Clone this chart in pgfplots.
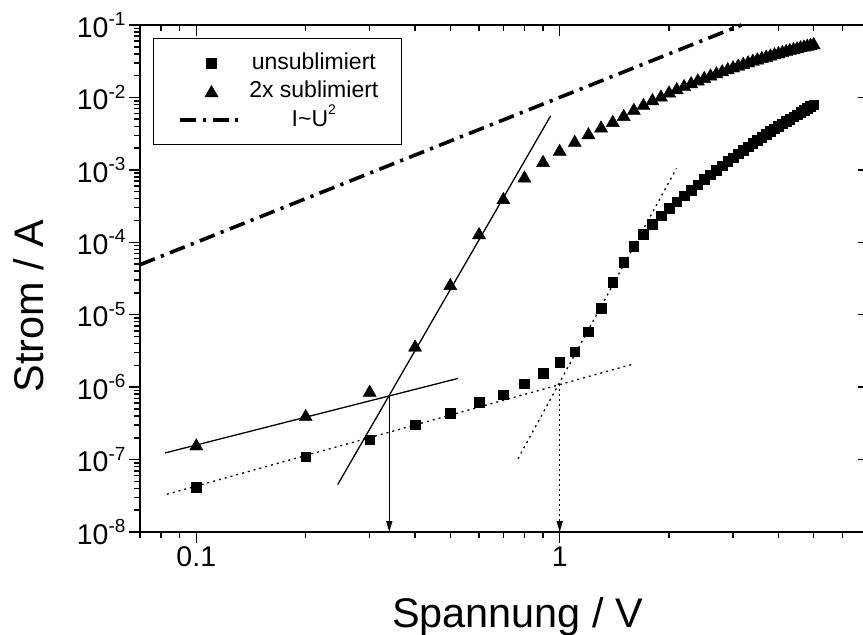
\documentclass[border=0pt]{standalone}
\usepackage{fontspec}
\setmainfont{Liberation Sans}
\usepackage{pgfplots}
\pgfplotsset{compat=1.18}
\usetikzlibrary{arrows.meta}
\newcommand\sups[1]{\raisebox{11.5pt}{\fontsize{19}{19}\selectfont #1}}
\newcommand\lsup[1]{\raisebox{12pt}{\fontsize{14}{14}\selectfont #1}}
\pgfplotsset{
  markleg/.style={legend image code/.code={\path[draw=none,fill=none] (-6pt,0pt) -- (62pt,0pt); \path[##1,draw=none] plot coordinates {(31pt,0pt)};}},
  triLeg/.style={legend image code/.code={\path[draw=none,fill=none] (-6pt,0pt) -- (62pt,0pt); \path[##1,draw=none] plot coordinates {(31pt,-1.5pt)};}},
  lineleg/.style={legend image code/.code={\path[draw=none,fill=none] (-6pt,0pt) -- (62pt,0pt); \draw[##1] (0pt,0pt) -- (62pt,0pt);}},
}
\begin{document}
\begin{tikzpicture}
\useasboundingbox (-140pt,-103pt) rectangle (723pt,532pt);
\begin{axis}[
  scale only axis, width=729pt, height=507pt,
  xmode=log, ymode=log,
  xmin=0.07, xmax=7.1, ymin=1e-8, ymax=1e-1,
  axis line style={line width=2pt},
  every tick/.style={line width=1.5pt, black},
  xtick={0.1,1},
  minor xtick={0.07,0.08,0.09,0.2,0.3,0.4,0.5,0.6,0.7,0.8,0.9,2,3,4,5,6},
  ytick={1e-8,1e-7,1e-6,1e-5,1e-4,1e-3,1e-2,1e-1},
  minor ytick={2e-8,3e-8,4e-8,5e-8,6e-8,7e-8,8e-8,9e-8,
               2e-7,3e-7,4e-7,5e-7,6e-7,7e-7,8e-7,9e-7,
               2e-6,3e-6,4e-6,5e-6,6e-6,7e-6,8e-6,9e-6,
               2e-5,3e-5,4e-5,5e-5,6e-5,7e-5,8e-5,9e-5,
               2e-4,3e-4,4e-4,5e-4,6e-4,7e-4,8e-4,9e-4,
               2e-3,3e-3,4e-3,5e-3,6e-3,7e-3,8e-3,9e-3,
               2e-2,3e-2,4e-2,5e-2,6e-2,7e-2,8e-2,9e-2},
  major tick length=11pt, minor tick length=6pt,
  clip=false,
  tick align=outside, xtick pos=left, ytick pos=left,
  xticklabels={0.1,1},
  yticklabels={10\sups{-8},10\sups{-7},10\sups{-6},10\sups{-5},10\sups{-4},10\sups{-3},10\sups{-2},10\sups{-1}},
  tick label style={font=\fontsize{28.5}{30}\selectfont},
  xlabel={Spannung / V}, ylabel={Strom / A},
  label style={font=\fontsize{41.4}{48}\selectfont},
  xlabel style={at={(0.5178,-0.1874)}, anchor=base},
  ylabel style={at={(-0.1317,0.4458)}, anchor=base},
  legend style={at={(0,1)}, anchor=north west, xshift=13pt, yshift=-13pt,
    draw=black, line width=1pt, fill=white, inner xsep=21pt, inner ysep=11.5pt,
    cells={anchor=center},
    nodes={inner sep=2pt, text height=17pt, text depth=5pt, font=\fontsize{23}{27}\selectfont},
    column sep=3pt, row sep=2.5pt},
]
% fit lines
\addplot[forget plot, black, line width=1.3pt] coordinates {(0.0821,1.235e-7) (0.5246,1.318e-6)};
\addplot[forget plot, black, line width=1.3pt] coordinates {(0.245,4.52e-8) (0.9445,5.58e-3)};
\addplot[forget plot, black, line width=1.3pt, -{Triangle[length=11pt,width=6pt]}] coordinates {(0.3397,7.57e-7) (0.3397,1e-8)};
\addplot[forget plot, black, line width=1.3pt, dash pattern=on 2pt off 4pt] coordinates {(0.083,3.32e-8) (1.586,2.07e-6)};
\addplot[forget plot, black, line width=1.3pt, dash pattern=on 2pt off 4pt] coordinates {(0.768,1.03e-7) (2.096,1.047e-3)};
\addplot[forget plot, black, line width=1.3pt, dash pattern=on 2pt off 3pt, -{Triangle[length=11pt,width=6pt]}] coordinates {(1.0,1.1e-6) (1.0,1e-8)};
% data
\addplot[only marks, mark=square*, mark size=4.8pt, black, line width=0.4pt, markleg]
 coordinates {
(0.1,4.19e-8) (0.2,1.09e-7) (0.3,1.89e-7) (0.4,3.05e-7) (0.5,4.4e-7) (0.6,6.25e-7)
(0.7,7.9e-7) (0.8,1.12e-6) (0.9,1.55e-6) (1.0,2.22e-6) (1.1,3.07e-6) (1.2,5.8e-6)
(1.3,1.24e-5) (1.4,2.79e-5) (1.5,5.27e-5) (1.6,8.85e-5) (1.7,1.30e-4) (1.8,1.78e-4)
(1.9,2.32e-4) (2.0,2.94e-4) (2.1,3.62e-4) (2.2,4.40e-4) (2.3,5.28e-4) (2.4,6.27e-4)
(2.5,7.38e-4) (2.6,8.62e-4) (2.7,9.97e-4) (2.8,1.146e-3) (2.9,1.307e-3) (3.0,1.481e-3)
(3.1,1.671e-3) (3.2,1.872e-3) (3.3,2.089e-3) (3.4,2.32e-3) (3.5,2.566e-3) (3.6,2.825e-3)
(3.7,3.099e-3) (3.8,3.388e-3) (3.9,3.693e-3) (4.0,4.011e-3) (4.1,4.342e-3) (4.2,4.686e-3)
(4.3,5.048e-3) (4.4,5.423e-3) (4.5,5.807e-3) (4.6,6.214e-3) (4.7,6.627e-3) (4.8,7.054e-3)
(4.9,7.499e-3) (5.0,7.957e-3)
};
\addlegendentry{unsublimiert}
\addplot[only marks, mark=triangle*, mark size=7.6pt, black, line width=0.4pt, triLeg]
 coordinates {
(0.1,1.53e-7) (0.2,3.88e-7) (0.3,8.4e-7) (0.4,3.53e-6) (0.5,2.5e-5) (0.6,1.26e-4)
(0.7,3.84e-4) (0.8,7.63e-4) (0.9,1.25e-3) (1.0,1.78e-3) (1.1,2.37e-3) (1.2,3.02e-3) (1.3,3.74e-3)
(1.4,4.47e-3) (1.5,5.41e-3) (1.6,6.55e-3) (1.7,7.68e-3) (1.8,8.91e-3) (1.9,1.0e-2)
(2.0,1.14e-2) (2.1,1.266e-2) (2.2,1.397e-2) (2.3,1.531e-2) (2.4,1.669e-2) (2.5,1.808e-2)
(2.6,1.951e-2) (2.7,2.094e-2) (2.8,2.239e-2) (2.9,2.383e-2) (3.0,2.53e-2) (3.1,2.676e-2)
(3.2,2.822e-2) (3.3,2.969e-2) (3.4,3.115e-2) (3.5,3.261e-2) (3.6,3.405e-2) (3.7,3.549e-2)
(3.8,3.692e-2) (3.9,3.834e-2) (4.0,3.975e-2) (4.1,4.114e-2) (4.2,4.251e-2) (4.3,4.388e-2)
(4.4,4.522e-2) (4.5,4.653e-2) (4.6,4.785e-2) (4.7,4.913e-2) (4.8,5.039e-2) (4.9,5.164e-2)
(5.0,5.288e-2)
};
\addlegendentry{2x sublimiert}
\addplot[black, line width=3.6pt, dash pattern=on 16pt off 6.5pt on 3.2pt off 6.5pt, lineleg]
 coordinates {(0.07,4.9e-5) (3.1623,0.1)};
\addlegendentry{I\textasciitilde U\lsup{2}}
\end{axis}
\begin{axis}[
  scale only axis, width=729pt, height=507pt,
  xmode=log, ymode=log,
  xmin=0.07, xmax=7.1, ymin=1e-8, ymax=1e-1,
  axis line style={line width=2pt},
  every tick/.style={line width=1.5pt, black},
  xtick={0.1,1},
  minor xtick={0.07,0.08,0.09,0.2,0.3,0.4,0.5,0.6,0.7,0.8,0.9,2,3,4,5,6},
  ytick={1e-8,1e-7,1e-6,1e-5,1e-4,1e-3,1e-2,1e-1},
  minor ytick={2e-8,3e-8,4e-8,5e-8,6e-8,7e-8,8e-8,9e-8,
               2e-7,3e-7,4e-7,5e-7,6e-7,7e-7,8e-7,9e-7,
               2e-6,3e-6,4e-6,5e-6,6e-6,7e-6,8e-6,9e-6,
               2e-5,3e-5,4e-5,5e-5,6e-5,7e-5,8e-5,9e-5,
               2e-4,3e-4,4e-4,5e-4,6e-4,7e-4,8e-4,9e-4,
               2e-3,3e-3,4e-3,5e-3,6e-3,7e-3,8e-3,9e-3,
               2e-2,3e-2,4e-2,5e-2,6e-2,7e-2,8e-2,9e-2},
  major tick length=11pt, minor tick length=6pt,
  tick align=inside, xtick pos=right, ytick pos=right,
  xticklabels={}, yticklabels={},
]
\end{axis}
\end{tikzpicture}
\end{document}
